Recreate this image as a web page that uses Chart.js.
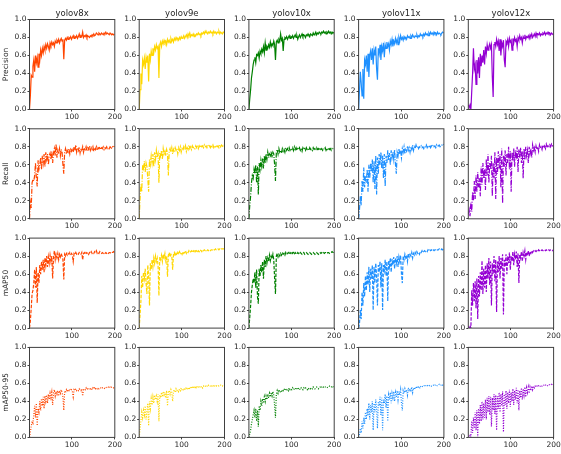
<!DOCTYPE html>
<html>
<head>
<meta charset="utf-8">
<script src="https://cdn.jsdelivr.net/npm/chart.js@4.4.1/dist/chart.umd.min.js"></script>
<style>
  body { margin: 0; background: #fff; }
  #grid { position: relative; width: 561px; height: 454px; overflow: hidden; }
  #grid canvas { position: absolute; }
</style>
</head>
<body>
<div id="grid"></div>
<script>
// epochs sampled every other epoch
const epochs = [
  1,3,5,7,9,11,13,15,17,19,21,23,25,27,29,31,33,35,37,39,
  41,43,45,47,49,51,53,55,57,59,61,63,65,67,69,71,73,75,77,79,
  81,83,85,87,89,91,93,95,97,99,101,103,105,107,109,111,113,115,117,119,
  121,123,125,127,129,131,133,135,137,139,141,143,145,147,149,151,153,155,157,159,
  161,163,165,167,169,171,173,175,177,179,181,183,185,187,189,191,193,195,197,199
];
const models = ['yolov8x', 'yolov9e', 'yolov10x', 'yolov11x', 'yolov12x'];
const metrics = ['Precision', 'Recall', 'mAP50', 'mAP50-95'];
const xTicks = [100, 200];
const yTicks = [0, 0.2, 0.4, 0.6, 0.8, 1.0];

// ---- Precision ----
const precV8x = [
  0.00,0.15,0.38,0.36,0.48,0.55,0.42,0.60,0.52,0.58,0.47,0.62,0.55,0.66,0.60,0.68,0.63,0.70,0.66,0.72,
  0.68,0.73,0.70,0.66,0.74,0.71,0.75,0.72,0.74,0.70,0.76,0.74,0.77,0.75,0.78,0.74,0.77,0.79,0.76,0.78,
  0.56,0.77,0.79,0.77,0.80,0.78,0.80,0.79,0.81,0.78,0.80,0.82,0.79,0.81,0.80,0.82,0.79,0.81,0.84,0.80,
  0.82,0.81,0.86,0.80,0.82,0.81,0.83,0.80,0.82,0.81,0.80,0.82,0.81,0.83,0.82,0.84,0.82,0.83,0.85,0.84,
  0.83,0.85,0.84,0.83,0.85,0.84,0.83,0.85,0.84,0.86,0.84,0.85,0.84,0.83,0.85,0.84,0.83,0.84,0.83,0.84
];
const precV9e = [
  0.00,0.22,0.40,0.28,0.55,0.50,0.57,0.45,0.58,0.52,0.60,0.31,0.62,0.55,0.65,0.60,0.68,0.63,0.70,0.66,
  0.72,0.68,0.70,0.35,0.72,0.75,0.70,0.76,0.73,0.77,0.74,0.76,0.72,0.78,0.75,0.77,0.74,0.79,0.76,0.78,
  0.75,0.79,0.77,0.80,0.78,0.79,0.77,0.80,0.78,0.81,0.79,0.80,0.82,0.79,0.81,0.83,0.80,0.84,0.82,0.85,
  0.81,0.83,0.82,0.84,0.81,0.83,0.82,0.84,0.83,0.85,0.83,0.84,0.82,0.85,0.84,0.86,0.84,0.87,0.85,0.86,
  0.84,0.86,0.85,0.87,0.85,0.86,0.84,0.87,0.85,0.86,0.84,0.86,0.85,0.87,0.84,0.86,0.85,0.84,0.86,0.85
];
const precV10x = [
  0.00,0.12,0.22,0.35,0.42,0.50,0.55,0.58,0.52,0.61,0.60,0.63,0.57,0.65,0.62,0.67,0.64,0.70,0.63,0.74,
  0.66,0.70,0.68,0.72,0.69,0.75,0.70,0.73,0.71,0.76,0.72,0.55,0.75,0.77,0.74,0.78,0.76,0.84,0.77,0.79,
  0.65,0.78,0.80,0.79,0.81,0.78,0.80,0.82,0.79,0.81,0.80,0.82,0.79,0.81,0.83,0.80,0.82,0.78,0.81,0.83,
  0.80,0.82,0.84,0.81,0.83,0.82,0.80,0.83,0.82,0.84,0.82,0.81,0.84,0.83,0.82,0.85,0.83,0.84,0.86,0.83,
  0.85,0.84,0.86,0.85,0.84,0.86,0.85,0.87,0.85,0.86,0.84,0.86,0.85,0.87,0.85,0.86,0.84,0.86,0.85,0.86
];
const precV11x = [
  0.00,0.20,0.42,0.30,0.15,0.45,0.12,0.55,0.50,0.60,0.42,0.62,0.36,0.60,0.65,0.55,0.68,0.50,0.66,0.60,
  0.70,0.45,0.33,0.68,0.62,0.72,0.55,0.70,0.65,0.74,0.58,0.72,0.68,0.75,0.70,0.73,0.66,0.76,0.72,0.78,
  0.70,0.76,0.73,0.79,0.74,0.78,0.72,0.80,0.76,0.82,0.78,0.80,0.77,0.81,0.79,0.80,0.78,0.82,0.80,0.81,
  0.79,0.82,0.80,0.83,0.81,0.80,0.82,0.81,0.83,0.80,0.82,0.81,0.84,0.82,0.83,0.81,0.84,0.82,0.85,0.83,
  0.84,0.82,0.85,0.83,0.86,0.84,0.85,0.83,0.86,0.84,0.85,0.83,0.86,0.84,0.85,0.84,0.83,0.85,0.86,0.85
];
const precV12x = [
  0.05,0.02,0.05,0.00,0.20,0.40,0.68,0.45,0.50,0.28,0.55,0.40,0.58,0.35,0.62,0.48,0.60,0.52,0.66,0.50,
  0.70,0.62,0.72,0.66,0.70,0.73,0.68,0.72,0.36,0.14,0.72,0.75,0.70,0.78,0.72,0.76,0.65,0.78,0.60,0.74,
  0.70,0.77,0.55,0.47,0.76,0.74,0.78,0.70,0.79,0.75,0.77,0.66,0.79,0.74,0.80,0.76,0.78,0.70,0.80,0.77,
  0.82,0.78,0.80,0.74,0.81,0.79,0.83,0.78,0.81,0.80,0.82,0.79,0.83,0.81,0.84,0.80,0.82,0.84,0.81,0.85,
  0.82,0.84,0.83,0.85,0.82,0.84,0.83,0.85,0.84,0.86,0.83,0.85,0.84,0.86,0.84,0.85,0.83,0.85,0.84,0.83
];

// ---- Recall ----
const recV8x = [
  0.00,0.18,0.12,0.40,0.44,0.42,0.48,0.62,0.45,0.36,0.65,0.55,0.60,0.68,0.55,0.70,0.62,0.72,0.58,0.74,
  0.66,0.72,0.60,0.70,0.73,0.66,0.75,0.62,0.73,0.78,0.70,0.83,0.68,0.76,0.72,0.78,0.70,0.77,0.74,0.60,
  0.50,0.74,0.78,0.72,0.76,0.74,0.78,0.72,0.77,0.75,0.78,0.74,0.80,0.76,0.82,0.74,0.79,0.76,0.80,0.73,
  0.78,0.76,0.80,0.74,0.79,0.77,0.80,0.75,0.79,0.77,0.81,0.76,0.79,0.77,0.80,0.75,0.79,0.77,0.80,0.76,
  0.79,0.78,0.80,0.77,0.79,0.78,0.80,0.77,0.79,0.78,0.80,0.77,0.79,0.78,0.80,0.79,0.78,0.80,0.79,0.81
];
const recV9e = [
  0.00,0.22,0.38,0.30,0.60,0.56,0.64,0.52,0.62,0.58,0.45,0.30,0.66,0.60,0.70,0.62,0.72,0.58,0.74,0.66,
  0.76,0.68,0.72,0.40,0.74,0.70,0.76,0.66,0.78,0.72,0.75,0.70,0.77,0.73,0.48,0.75,0.78,0.74,0.79,0.72,
  0.77,0.74,0.79,0.76,0.78,0.72,0.79,0.76,0.80,0.74,0.78,0.76,0.80,0.77,0.81,0.75,0.79,0.77,0.82,0.78,
  0.80,0.77,0.81,0.79,0.80,0.78,0.81,0.79,0.82,0.78,0.81,0.79,0.82,0.80,0.81,0.79,0.82,0.80,0.81,0.79,
  0.82,0.80,0.81,0.79,0.82,0.80,0.82,0.79,0.81,0.80,0.82,0.80,0.81,0.79,0.82,0.80,0.82,0.81,0.80,0.82
];
const recV10x = [
  0.00,0.15,0.25,0.40,0.48,0.45,0.55,0.50,0.60,0.40,0.58,0.27,0.62,0.55,0.65,0.58,0.67,0.56,0.70,0.62,
  0.72,0.66,0.74,0.68,0.72,0.70,0.75,0.68,0.74,0.72,0.60,0.42,0.74,0.77,0.72,0.78,0.74,0.76,0.73,0.78,
  0.75,0.77,0.74,0.79,0.76,0.78,0.75,0.79,0.76,0.78,0.77,0.79,0.76,0.80,0.77,0.79,0.76,0.78,0.77,0.79,
  0.76,0.78,0.75,0.79,0.77,0.78,0.76,0.79,0.77,0.78,0.76,0.79,0.77,0.78,0.76,0.79,0.77,0.78,0.76,0.79,
  0.77,0.78,0.76,0.79,0.77,0.78,0.76,0.78,0.77,0.79,0.76,0.78,0.77,0.79,0.77,0.78,0.76,0.78,0.77,0.78
];
const recV11x = [
  0.00,0.10,0.25,0.15,0.42,0.30,0.57,0.35,0.48,0.40,0.55,0.30,0.60,0.45,0.62,0.52,0.66,0.40,0.64,0.33,
  0.70,0.27,0.68,0.50,0.72,0.60,0.74,0.56,0.70,0.45,0.72,0.36,0.70,0.62,0.76,0.65,0.73,0.60,0.76,0.68,
  0.74,0.66,0.77,0.60,0.50,0.74,0.70,0.78,0.72,0.76,0.68,0.78,0.74,0.80,0.72,0.77,0.75,0.81,0.76,0.79,
  0.74,0.80,0.77,0.82,0.76,0.80,0.78,0.82,0.79,0.81,0.78,0.80,0.79,0.81,0.79,0.80,0.78,0.81,0.80,0.82,
  0.79,0.81,0.80,0.82,0.79,0.81,0.80,0.82,0.80,0.81,0.79,0.82,0.80,0.81,0.82,0.80,0.81,0.82,0.81,0.83
];
const recV12x = [
  0.05,0.10,0.03,0.18,0.08,0.30,0.20,0.42,0.22,0.48,0.30,0.52,0.35,0.45,0.25,0.58,0.38,0.62,0.45,0.55,
  0.32,0.66,0.48,0.72,0.40,0.62,0.55,0.70,0.25,0.62,0.45,0.74,0.22,0.68,0.50,0.75,0.56,0.72,0.35,0.78,
  0.17,0.70,0.58,0.76,0.48,0.72,0.62,0.80,0.55,0.75,0.30,0.74,0.64,0.78,0.58,0.76,0.66,0.80,0.52,0.77,
  0.68,0.79,0.62,0.75,0.45,0.78,0.66,0.80,0.70,0.76,0.62,0.80,0.72,0.78,0.68,0.82,0.76,0.79,0.74,0.81,
  0.77,0.80,0.75,0.82,0.78,0.80,0.77,0.82,0.79,0.81,0.78,0.83,0.80,0.81,0.79,0.82,0.80,0.83,0.81,0.82
];

// ---- mAP50 ----
const map50V8x = [
  0.00,0.08,0.22,0.38,0.42,0.50,0.65,0.45,0.68,0.28,0.62,0.50,0.70,0.60,0.74,0.65,0.76,0.62,0.78,0.70,
  0.80,0.68,0.79,0.72,0.81,0.74,0.80,0.55,0.78,0.86,0.76,0.82,0.78,0.83,0.76,0.82,0.79,0.83,0.80,0.76,
  0.54,0.82,0.80,0.83,0.81,0.83,0.82,0.84,0.82,0.83,0.81,0.74,0.83,0.82,0.84,0.82,0.83,0.82,0.84,0.83,
  0.82,0.84,0.76,0.83,0.84,0.82,0.84,0.83,0.84,0.82,0.84,0.83,0.85,0.83,0.84,0.83,0.85,0.84,0.86,0.83,
  0.84,0.83,0.85,0.84,0.83,0.84,0.83,0.84,0.83,0.84,0.83,0.84,0.83,0.84,0.84,0.83,0.84,0.84,0.85,0.84
];
const map50V9e = [
  0.00,0.15,0.30,0.58,0.45,0.62,0.55,0.66,0.50,0.38,0.70,0.58,0.25,0.72,0.65,0.76,0.68,0.78,0.72,0.80,
  0.74,0.78,0.70,0.36,0.79,0.76,0.81,0.74,0.82,0.78,0.83,0.75,0.80,0.57,0.81,0.84,0.79,0.82,0.80,0.65,
  0.82,0.84,0.80,0.83,0.81,0.84,0.82,0.85,0.83,0.84,0.82,0.85,0.83,0.84,0.86,0.83,0.85,0.84,0.86,0.84,
  0.85,0.86,0.84,0.86,0.85,0.87,0.85,0.86,0.84,0.86,0.85,0.87,0.86,0.85,0.87,0.86,0.87,0.86,0.87,0.86,
  0.87,0.86,0.87,0.86,0.87,0.87,0.86,0.87,0.87,0.88,0.87,0.87,0.88,0.87,0.88,0.87,0.88,0.88,0.88,0.88
];
const map50V10x = [
  0.00,0.12,0.25,0.40,0.48,0.55,0.50,0.62,0.45,0.65,0.35,0.27,0.66,0.58,0.70,0.62,0.74,0.55,0.76,0.68,
  0.80,0.72,0.78,0.74,0.81,0.75,0.80,0.77,0.82,0.76,0.55,0.38,0.80,0.83,0.79,0.82,0.80,0.83,0.81,0.84,
  0.82,0.83,0.81,0.84,0.82,0.83,0.84,0.82,0.84,0.83,0.85,0.83,0.84,0.82,0.84,0.83,0.82,0.84,0.83,0.82,
  0.84,0.83,0.82,0.83,0.84,0.82,0.83,0.84,0.83,0.82,0.83,0.84,0.83,0.82,0.83,0.84,0.83,0.82,0.83,0.84,
  0.83,0.82,0.83,0.84,0.83,0.84,0.83,0.84,0.83,0.84,0.84,0.83,0.84,0.84,0.83,0.84,0.84,0.85,0.84,0.84
];
const map50V11x = [
  0.00,0.05,0.20,0.10,0.40,0.25,0.50,0.35,0.58,0.42,0.62,0.48,0.68,0.40,0.66,0.55,0.70,0.20,0.68,0.50,
  0.72,0.58,0.25,0.70,0.62,0.74,0.45,0.72,0.20,0.70,0.64,0.76,0.58,0.74,0.30,0.75,0.68,0.78,0.62,0.77,
  0.70,0.79,0.66,0.78,0.72,0.80,0.68,0.79,0.74,0.81,0.60,0.50,0.80,0.76,0.82,0.78,0.81,0.74,0.83,0.79,
  0.82,0.80,0.84,0.78,0.83,0.81,0.84,0.82,0.85,0.83,0.84,0.82,0.85,0.84,0.86,0.84,0.85,0.86,0.85,0.86,
  0.85,0.87,0.86,0.87,0.86,0.87,0.86,0.87,0.86,0.87,0.87,0.86,0.87,0.87,0.88,0.87,0.87,0.88,0.87,0.88
];
const map50V12x = [
  0.02,0.00,0.03,0.00,0.42,0.25,0.50,0.30,0.52,0.22,0.55,0.10,0.58,0.35,0.62,0.42,0.75,0.38,0.66,0.45,
  0.70,0.40,0.72,0.55,0.78,0.48,0.74,0.25,0.72,0.60,0.80,0.52,0.76,0.18,0.74,0.62,0.80,0.55,0.78,0.66,
  0.82,0.15,0.76,0.68,0.82,0.60,0.80,0.72,0.84,0.65,0.80,0.74,0.85,0.70,0.82,0.76,0.85,0.68,0.83,0.50,
  0.82,0.78,0.85,0.74,0.84,0.80,0.86,0.76,0.84,0.82,0.86,0.80,0.85,0.83,0.86,0.84,0.86,0.85,0.86,0.85,
  0.86,0.85,0.87,0.86,0.85,0.86,0.87,0.86,0.86,0.87,0.86,0.87,0.86,0.87,0.87,0.86,0.87,0.87,0.86,0.87
];

// ---- mAP50-95 ----
const map5095V8x = [
  0.00,0.06,0.12,0.18,0.16,0.25,0.35,0.22,0.38,0.13,0.32,0.28,0.40,0.30,0.43,0.35,0.45,0.32,0.46,0.40,
  0.47,0.38,0.48,0.42,0.49,0.44,0.50,0.36,0.49,0.53,0.46,0.51,0.48,0.52,0.46,0.52,0.49,0.53,0.50,0.45,
  0.30,0.51,0.50,0.53,0.51,0.53,0.52,0.54,0.52,0.53,0.51,0.45,0.53,0.52,0.54,0.52,0.53,0.52,0.54,0.53,
  0.52,0.54,0.46,0.53,0.54,0.53,0.55,0.53,0.54,0.53,0.55,0.54,0.55,0.53,0.55,0.54,0.56,0.54,0.55,0.54,
  0.55,0.54,0.55,0.55,0.54,0.55,0.55,0.54,0.55,0.56,0.55,0.55,0.56,0.55,0.56,0.55,0.56,0.56,0.55,0.56
];
const map5095V9e = [
  0.00,0.10,0.18,0.28,0.22,0.30,0.25,0.35,0.20,0.28,0.38,0.13,0.40,0.32,0.43,0.36,0.45,0.38,0.47,0.42,
  0.46,0.40,0.48,0.18,0.47,0.44,0.50,0.45,0.51,0.47,0.50,0.44,0.52,0.35,0.50,0.52,0.48,0.53,0.50,0.40,
  0.51,0.53,0.50,0.54,0.52,0.53,0.51,0.54,0.52,0.55,0.53,0.54,0.52,0.55,0.53,0.56,0.54,0.55,0.53,0.56,
  0.54,0.56,0.55,0.57,0.55,0.56,0.54,0.57,0.55,0.56,0.55,0.57,0.56,0.57,0.55,0.57,0.56,0.57,0.56,0.57,
  0.56,0.58,0.57,0.57,0.56,0.58,0.57,0.58,0.57,0.58,0.57,0.58,0.58,0.57,0.58,0.58,0.58,0.57,0.58,0.59
];
const map5095V10x = [
  0.00,0.04,0.08,0.15,0.20,0.25,0.30,0.22,0.32,0.18,0.30,0.12,0.35,0.30,0.40,0.35,0.43,0.38,0.45,0.40,
  0.46,0.42,0.48,0.44,0.49,0.45,0.50,0.46,0.51,0.47,0.35,0.22,0.48,0.52,0.49,0.53,0.50,0.52,0.50,0.53,
  0.52,0.54,0.52,0.54,0.53,0.54,0.52,0.55,0.53,0.54,0.53,0.55,0.53,0.54,0.55,0.53,0.54,0.53,0.55,0.54,
  0.53,0.55,0.54,0.53,0.55,0.54,0.55,0.54,0.53,0.55,0.54,0.55,0.54,0.55,0.54,0.56,0.55,0.54,0.55,0.56,
  0.55,0.54,0.55,0.56,0.55,0.56,0.55,0.56,0.55,0.56,0.56,0.55,0.56,0.56,0.57,0.56,0.56,0.57,0.56,0.57
];
const map5095V11x = [
  0.00,0.03,0.10,0.05,0.18,0.10,0.22,0.15,0.28,0.20,0.32,0.24,0.38,0.20,0.36,0.28,0.40,0.08,0.38,0.28,
  0.42,0.32,0.10,0.40,0.35,0.45,0.25,0.44,0.08,0.42,0.38,0.48,0.33,0.46,0.18,0.47,0.42,0.50,0.38,0.49,
  0.44,0.51,0.40,0.50,0.45,0.52,0.42,0.51,0.47,0.53,0.38,0.30,0.52,0.49,0.54,0.50,0.53,0.47,0.55,0.51,
  0.54,0.52,0.56,0.50,0.55,0.53,0.56,0.54,0.57,0.55,0.56,0.54,0.57,0.56,0.57,0.56,0.57,0.58,0.57,0.58,
  0.57,0.58,0.57,0.58,0.58,0.57,0.58,0.58,0.57,0.58,0.58,0.57,0.58,0.58,0.59,0.58,0.58,0.59,0.58,0.59
];
const map5095V12x = [
  0.01,0.00,0.02,0.00,0.18,0.05,0.22,0.10,0.28,0.08,0.30,0.00,0.32,0.15,0.36,0.18,0.40,0.20,0.38,0.22,
  0.42,0.20,0.44,0.28,0.46,0.25,0.45,0.12,0.44,0.30,0.48,0.26,0.47,0.08,0.46,0.32,0.50,0.28,0.48,0.35,
  0.51,0.06,0.48,0.36,0.52,0.32,0.50,0.38,0.53,0.34,0.50,0.40,0.54,0.36,0.52,0.42,0.55,0.38,0.53,0.30,
  0.52,0.44,0.55,0.42,0.54,0.47,0.56,0.45,0.55,0.50,0.56,0.49,0.56,0.52,0.57,0.53,0.57,0.55,0.57,0.56,
  0.57,0.56,0.58,0.57,0.57,0.58,0.57,0.58,0.58,0.57,0.58,0.58,0.57,0.58,0.59,0.58,0.58,0.59,0.58,0.59
];

// one row per metric, one column per model
const series = [
  [precV8x, precV9e, precV10x, precV11x, precV12x],
  [recV8x, recV9e, recV10x, recV11x, recV12x],
  [map50V8x, map50V9e, map50V10x, map50V11x, map50V12x],
  [map5095V8x, map5095V9e, map5095V10x, map5095V11x, map5095V12x]
];

const colors = ['#ff4500', '#ffd700', '#008000', '#1e90ff', '#9400d3'];
// solid, dash-dot, dashed, dotted
const dashes = [[], [5, 1.5, 1, 1.5], [3.5, 1.5], [1, 1.5]];

const textColor = '#262626';
const axisColor = '#404040';
Chart.defaults.font.family = 'DejaVu Sans';

// panel geometry (plot area of each subplot)
const plotW = 85.3, plotH = 90;
const colStep = 109.7, rowStep = 109.3;
const firstLeft = 29.5, firstTop = 19.5;
const titleFont = 8.5;
const titleH = titleFont * 1.2 + 1;
const tickFont = 7.5;
const xAxisH = 14;

// full box round the plot area
const frame = {
  id: 'frame',
  afterDatasetsDraw(chart) {
    const a = chart.chartArea;
    const ctx = chart.ctx;
    ctx.save();
    ctx.strokeStyle = axisColor;
    ctx.lineWidth = 1;
    ctx.strokeRect(a.left, a.top, a.right - a.left, a.bottom - a.top);
    ctx.restore();
  }
};

const grid = document.getElementById('grid');

for (let r = 0; r < metrics.length; r++) {
  for (let c = 0; c < models.length; c++) {
    const plotL = firstLeft + colStep * c;
    const plotT = firstTop + rowStep * r;
    const canvasL = Math.floor(plotL - 29.5);
    const canvasT = Math.floor(plotT - 20);
    const yW = plotL - canvasL;
    const canvasW = Math.ceil(yW + plotW + 10);
    const canvasH = Math.ceil(plotT - canvasT + plotH + xAxisH + 1);
    const padTop = plotT - canvasT - (r === 0 ? titleH : 0);
    const padRight = canvasW - yW - plotW;
    const padBottom = canvasH - (plotT - canvasT) - plotH - xAxisH;

    const canvas = document.createElement('canvas');
    canvas.width = canvasW;
    canvas.height = canvasH;
    canvas.style.left = canvasL + 'px';
    canvas.style.top = canvasT + 'px';
    grid.appendChild(canvas);

    const values = series[r][c];
    const points = epochs.map((e, i) => ({ x: e, y: values[i] }));

    new Chart(canvas, {
      type: 'line',
      data: {
        datasets: [{
          data: points,
          borderColor: colors[c],
          borderWidth: 1.2,
          borderDash: dashes[r],
          pointRadius: 0,
          tension: 0,
          fill: false
        }]
      },
      options: {
        responsive: false,
        animation: false,
        devicePixelRatio: 1,
        layout: { padding: { left: 0, top: padTop, right: padRight, bottom: padBottom } },
        plugins: {
          legend: { display: false },
          tooltip: { enabled: false },
          title: {
            display: r === 0,
            fullSize: false,
            text: models[c],
            color: textColor,
            font: { size: titleFont, weight: 'normal' },
            padding: { top: 0, bottom: 1 }
          }
        },
        scales: {
          x: {
            type: 'linear',
            min: 1,
            max: 200,
            afterBuildTicks: s => { s.ticks = xTicks.map(v => ({ value: v })); },
            afterFit: s => { s.height = xAxisH; },
            border: { display: false },
            grid: { drawOnChartArea: false, drawTicks: true, tickLength: 2, color: axisColor },
            ticks: { color: textColor, font: { size: tickFont }, padding: 1, maxRotation: 0, autoSkip: false }
          },
          y: {
            min: 0,
            max: 1,
            afterBuildTicks: s => { s.ticks = yTicks.map(v => ({ value: v })); },
            afterFit: s => { s.width = yW; },
            border: { display: false },
            grid: { drawOnChartArea: false, drawTicks: true, tickLength: 2, color: axisColor },
            ticks: { color: textColor, font: { size: tickFont }, padding: 1, callback: v => v.toFixed(1) },
            title: {
              display: c === 0,
              text: metrics[r],
              color: textColor,
              font: { size: tickFont },
              padding: { top: 2, bottom: 0 }
            }
          }
        }
      },
      plugins: [frame]
    });
  }
}
</script>
</body>
</html>
